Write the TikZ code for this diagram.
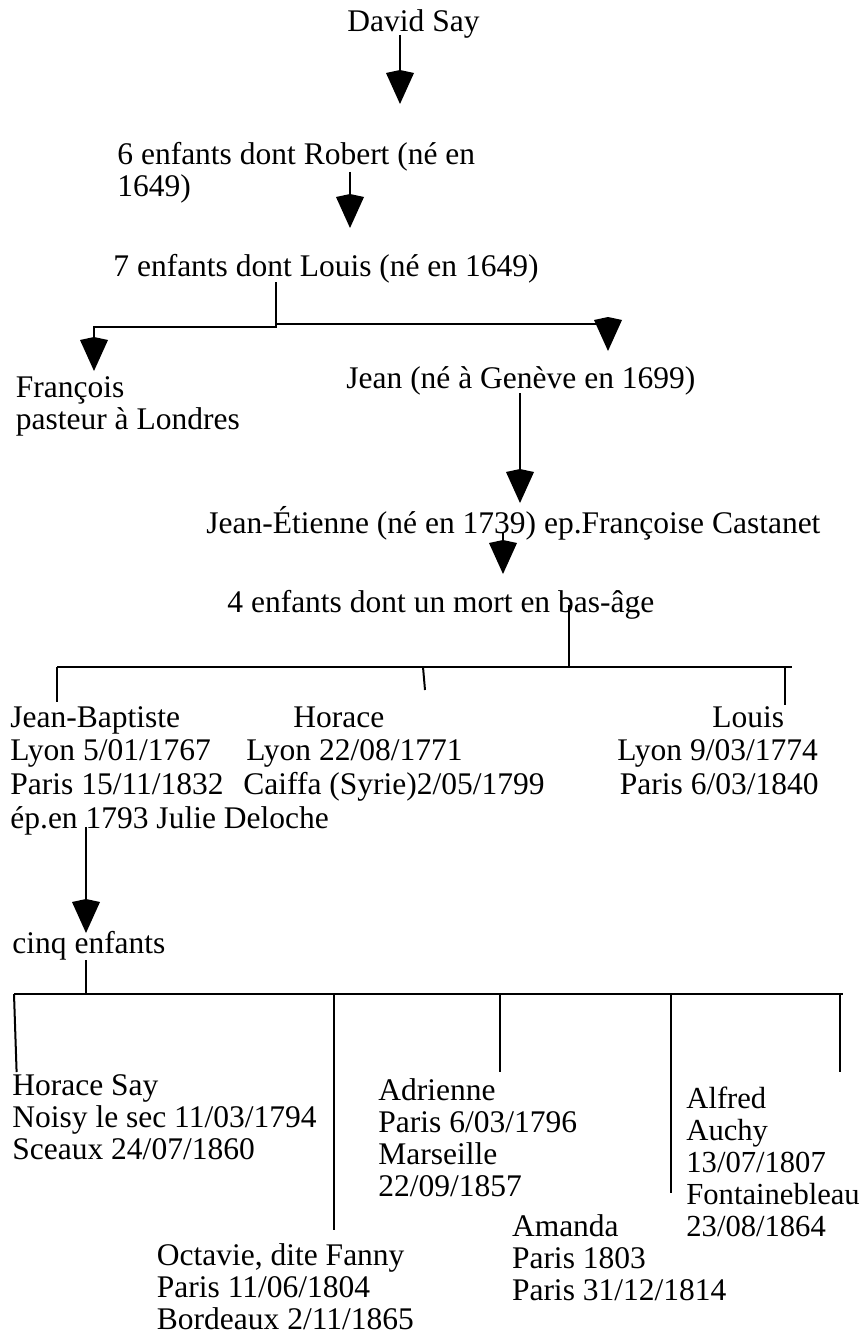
\documentclass[tikz,border=0pt]{standalone}
\usepackage{fontspec}
\setmainfont{Liberation Serif}
\usetikzlibrary{arrows.meta}
\begin{document}
\begin{tikzpicture}[x=0.5pt,y=-0.5pt,
  lbl/.style={anchor=base west, inner sep=0pt, font=\fontsize{15.75}{16}\selectfont},
  lblw/.style={lbl, font=\fontsize{15.75}{16.85}\selectfont},
  lbln/.style={lbl, font=\fontsize{15.3}{16.1}\selectfont},
  conn/.style={line width=1pt},
  arr/.style={conn, -{Kite[length=17pt,width=14pt,inset=1.5pt]}},
]
\useasboundingbox (0,0) rectangle (863,1337);

% ---- text nodes ----
\node[lbl] (david) at (347,31.7) {David Say};
\node[lbl] (robert) at (117,165) {\begin{tabular}[t]{@{}l@{}}6 enfants dont Robert (né en\\1649)\end{tabular}};
\node[lbl] (louis7) at (113,277) {7 enfants dont Louis (né en 1649)};
\node[lbl] (francois) at (15.5,397) {\begin{tabular}[t]{@{}l@{}}François\\pasteur à Londres\end{tabular}};
\node[lbl] (jean) at (346,388) {Jean (né à Genève en 1699)};
\node[lbl] (jeanet) at (206,533) {Jean-Étienne (né en 1739) ep.Françoise Castanet};
\node[lbl] (quatre) at (227,612) {4 enfants dont un mort en bas-âge};
\node[lblw] (jb) at (10,727) {\begin{tabular}[t]{@{}l@{}}Jean-Baptiste\\Lyon 5/01/1767\\Paris 15/11/1832\\ép.en 1793 Julie Deloche\end{tabular}};
\node[lblw] (horace) at (243,727) {\begin{tabular}[t]{@{}l@{}}\hspace*{25pt}Horace\\\hspace*{1.5pt}Lyon 22/08/1771\\Caiffa (Syrie)2/05/1799\end{tabular}};
\node[lblw] (louisb) at (617,727) {\begin{tabular}[t]{@{}l@{}}\hspace*{47.5pt}Louis\\Lyon 9/03/1774\\\hspace*{1.25pt}Paris 6/03/1840\end{tabular}};
\node[lbl] (cinq) at (12,953) {cinq enfants};
\node[lbl] (hsay) at (12,1095) {\begin{tabular}[t]{@{}l@{}}Horace Say\\Noisy le sec 11/03/1794\\Sceaux 24/07/1860\end{tabular}};
\node[lbl] (adrienne) at (378,1100) {\begin{tabular}[t]{@{}l@{}}Adrienne\\Paris 6/03/1796\\Marseille\\22/09/1857\end{tabular}};
\node[lbln] (alfred) at (686,1108) {\begin{tabular}[t]{@{}l@{}}Alfred\\Auchy\\13/07/1807\\Fontainebleau\\23/08/1864\end{tabular}};
\node[lbl] (amanda) at (511.6,1236.7) {\begin{tabular}[t]{@{}l@{}}Amanda\\Paris 1803\\Paris 31/12/1814\end{tabular}};
\node[lbl] (octavie) at (156.5,1265) {\begin{tabular}[t]{@{}l@{}}Octavie, dite Fanny\\Paris 11/06/1804\\Bordeaux 2/11/1865\end{tabular}};

% ---- connector end points ----
\coordinate (d0) at (400,35);    \coordinate (d1) at (400,104);
\coordinate (r0) at (350,172);   \coordinate (r1) at (350,228);
\coordinate (l0) at (276,282);
\coordinate (lf) at (94,371);    \coordinate (lj) at (608,351);
\coordinate (j0) at (520,393);   \coordinate (j1) at (520,503);
\coordinate (e0) at (503,533);   \coordinate (e1) at (503,574);
\coordinate (q0) at (568.6,605); \coordinate (q1) at (568.6,667);
\coordinate (ha) at (57,667);    \coordinate (hb) at (792,667);
\coordinate (k1) at (57,702);    \coordinate (k2) at (425,690);
\coordinate (k3) at (785,705);
\coordinate (b0) at (86,827);    \coordinate (b1) at (86,933);
\coordinate (c0) at (86,960);    \coordinate (c1) at (86,994);
\coordinate (ga) at (14,994);    \coordinate (gb) at (843,994);
\coordinate (m1) at (16.6,1072); \coordinate (m2) at (333.5,1230);
\coordinate (m3) at (499.5,1072);\coordinate (m4) at (671,1193);
\coordinate (m5) at (839.6,1072);

% ---- connectors ----
\draw[arr] (d0) -- (d1);
\draw[arr] (r0) -- (r1);
\draw[arr] (l0) -- (276,327) -- (lf |- 0,327) -- (lf);
\draw[arr] (276,324) -- (lj |- 0,324) -- (lj);
\draw[arr] (j0) -- (j1);
\draw[arr] (e0) -- (e1);
\draw[conn] (q0) -- (q1);
\draw[conn] (ha) -- (hb);
\draw[conn] (ha) -- (k1);
\draw[conn] (423,667) -- (k2);
\draw[conn] (785,667) -- (k3);
\draw[arr] (b0) -- (b1);
\draw[conn] (c0) -- (c1);
\draw[conn] (ga) -- (gb);
\draw[conn] (ga) -- (m1);
\draw[conn] (m2 |- ga) -- (m2);
\draw[conn] (m3 |- ga) -- (m3);
\draw[conn] (m4 |- ga) -- (m4);
\draw[conn] (m5 |- ga) -- (m5);
\end{tikzpicture}
\end{document}
